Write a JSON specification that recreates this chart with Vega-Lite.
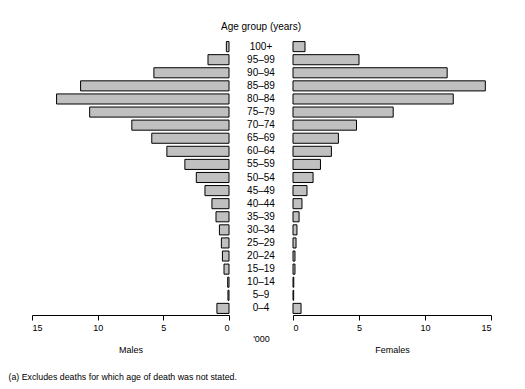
{
  "$schema": "https://vega.github.io/schema/vega-lite/v6.json",
  "background": "white",
  "padding": {"left": 8, "top": 22, "right": 5, "bottom": 5},
  "bounds": "flush",
  "spacing": 0,
  "config": {
    "view": {"stroke": null},
    "font": "Liberation Sans",
    "axis": {
      "domainColor": "black",
      "tickColor": "black",
      "labelColor": "black",
      "titleColor": "black",
      "labelFont": "Liberation Sans",
      "titleFont": "Liberation Sans",
      "labelFontSize": 9,
      "titleFontSize": 9,
      "titleFontWeight": "normal",
      "tickSize": 5,
      "labelPadding": 3,
      "grid": false
    }
  },
  "data": {
    "values": [
      {"age": "100+", "males": 0.2, "females": 0.91},
      {"age": "95–99", "males": 1.6, "females": 5.0},
      {"age": "90–94", "males": 5.72, "females": 11.68},
      {"age": "85–89", "males": 11.3, "females": 14.57},
      {"age": "80–84", "males": 13.13, "females": 12.14},
      {"age": "75–79", "males": 10.61, "females": 7.59},
      {"age": "70–74", "males": 7.4, "females": 4.81},
      {"age": "65–69", "males": 5.88, "females": 3.44},
      {"age": "60–64", "males": 4.73, "females": 2.91},
      {"age": "55–59", "males": 3.36, "females": 2.08},
      {"age": "50–54", "males": 2.49, "females": 1.52},
      {"age": "45–49", "males": 1.83, "females": 1.06},
      {"age": "40–44", "males": 1.3, "females": 0.68},
      {"age": "35–39", "males": 0.99, "females": 0.46},
      {"age": "30–34", "males": 0.73, "females": 0.3},
      {"age": "25–29", "males": 0.58, "females": 0.23},
      {"age": "20–24", "males": 0.5, "females": 0.15},
      {"age": "15–19", "males": 0.38, "females": 0.15},
      {"age": "10–14", "males": 0.1, "females": 0.06},
      {"age": "5–9", "males": 0.08, "females": 0.05},
      {"age": "0–4", "males": 0.92, "females": 0.61}
    ]
  },
  "hconcat": [
    {
      "width": 197,
      "height": 275,
      "mark": {"type": "bar", "fill": "#c0c0c0", "stroke": "black", "strokeWidth": 1},
      "encoding": {
        "y": {"field": "age", "type": "nominal", "sort": null, "axis": null,
              "scale": {"paddingInner": 0.23, "paddingOuter": 0.12}},
        "x": {"field": "males", "type": "quantitative",
              "scale": {"domain": [0, 15], "reverse": true, "nice": false},
              "axis": {"values": [0, 5, 10, 15], "title": "Males", "titlePadding": 13}}
      }
    },
    {
      "width": 64,
      "height": 275,
      "title": {"text": "Age group (years)", "anchor": "middle", "fontSize": 10, "fontWeight": "normal", "font": "Liberation Sans", "color": "black", "offset": 8},
      "mark": {"type": "text", "fontSize": 10, "color": "black", "align": "center", "baseline": "middle"},
      "encoding": {
        "y": {"field": "age", "type": "nominal", "sort": null, "axis": null,
              "scale": {"paddingInner": 0.23, "paddingOuter": 0.12}},
        "x": {"datum": 0, "type": "quantitative", "scale": {"domain": [-1, 1], "nice": false},
              "axis": {"title": "'000", "labels": false, "ticks": false, "domain": false, "titlePadding": 19}},
        "text": {"field": "age", "type": "nominal"}
      }
    },
    {
      "width": 198,
      "height": 275,
      "mark": {"type": "bar", "fill": "#c0c0c0", "stroke": "black", "strokeWidth": 1},
      "encoding": {
        "y": {"field": "age", "type": "nominal", "sort": null, "axis": null,
              "scale": {"paddingInner": 0.23, "paddingOuter": 0.12}},
        "x": {"field": "females", "type": "quantitative",
              "scale": {"domain": [0, 15], "nice": false},
              "axis": {"values": [0, 5, 10, 15], "title": "Females", "titlePadding": 13}}
      }
    }
  ],
  "title": {"text": "(a) Excludes deaths for which age of death was not stated.", "orient": "bottom", "anchor": "start", "fontSize": 8.8, "fontWeight": "normal", "font": "Liberation Sans", "color": "black", "offset": 19, "dx": -23}
}
